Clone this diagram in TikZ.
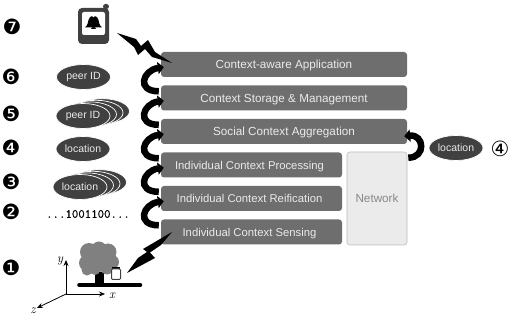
\documentclass[tikz,border=0pt]{standalone}
\usepackage{fontspec}
\setmainfont{Liberation Sans}
\newfontfamily\symfont{DejaVu Sans}
\newfontfamily\digitfont[FakeBold=0.6]{Latin Modern Mono}
\newfontfamily\axisfont{Latin Modern Roman}
\usetikzlibrary{shapes.geometric,arrows.meta,calc}
\definecolor{layer}{HTML}{6E6E6E}
\definecolor{blob}{HTML}{404040}
\definecolor{foliage}{HTML}{808080}
\tikzset{
  layerbox/.style={rectangle,rounded corners=3pt,fill=layer,text=white!92!black,inner sep=0pt,
    minimum height=25pt,text height=9.5pt,text depth=0.5pt,font=\fontsize{11.7}{13}\selectfont},
  smallerlayer/.style={layerbox,minimum width=181pt,font=\fontsize{11.3}{13}\selectfont},
  netbox/.style={rectangle,rounded corners=3pt,fill=black!8,draw=black!27,line width=.6pt,inner sep=0pt,
    minimum width=60pt,minimum height=93pt,text=black!47,font=\fontsize{11.7}{13}\selectfont},
  token/.style={ellipse,fill=blob,draw=white,line width=.7pt,inner sep=0pt,minimum width=54pt,
    minimum height=25pt,text=white!92!black,font=\fontsize{10.5}{12}\selectfont},
  stepmark/.style={inner sep=0pt,font=\symfont\fontsize{21}{23}\selectfont},
  turn/.style={line width=6.5pt,-{Triangle[length=6pt,width=12pt]}},
  bolt/.style={fill=black,draw=none},
  axis/.style={line width=.8pt,-{Stealth[length=6pt,width=5pt]}},
  axislabel/.style={inner sep=0pt,font=\axisfont\itshape\fontsize{13}{15}\selectfont}
}
\begin{document}
\begin{tikzpicture}[x=1pt,y=-1pt]
\useasboundingbox (0,0) rectangle (509,320);

% Layer stack
\node[layerbox,minimum width=246pt] (app) at (284,64.5) {Context-aware Application};
\node[layerbox,minimum width=246pt] (storage) at (284,98) {Context Storage \& Management};
\node[layerbox,minimum width=246pt] (social) at (284,131.5) {Social Context Aggregation};
\node[smallerlayer] (proc) at (251.5,165) {\hspace*{-4pt}Individual Context Processing};
\node[smallerlayer] (reif) at (251.5,198.5) {\hspace*{-4pt}Individual Context Reification};
\node[smallerlayer] (sens) at (251.5,232) {\hspace*{-4pt}Individual Context Sensing};
\node[netbox] (net) at (377,198.5) {Network};

% Curved hand-over arrows between layers
\foreach \lo/\up in {storage/app,social/storage,proc/social,reif/proc,sens/reif}{
  \coordinate (s) at ($(\lo.north west)+(-2,6)$);
  \coordinate (e) at ($(\up.south west)+(3,-10)$);
  \draw[turn] (s) .. controls ($(s)+(-23,0)$) and ($(e)+(-21,3)$) .. (e);
}
\coordinate (ns) at ($(net.north east)+(1,6)$);
\coordinate (ne) at ($(social.south east)+(-3,-8)$);
\draw[turn] (ns) .. controls ($(ns)+(18,0)$) and ($(ne)+(20,-2)$) .. (ne);

% Data tokens, back layers first
\foreach \k in {3,2,1}{
  \node[token] at ({83+6.5*\k},{116-1.6*\k}) {};
  \node[token] at ({80+6.5*\k},{187-1.6*\k}) {};
}
\node[token] (peerone) at (83.5,77) {peer ID};
\node[token] (peermany) at (83,116) {peer ID};
\node[token] (locone) at (83,149) {location};
\node[token] (locmany) at (80,187) {location};
\node[token] (locright) at (456,148) {location};
\node[inner sep=0pt,font=\digitfont\fontsize{12.5}{14}\selectfont] (bits) at (88,214) {...1001100...};

% Step numbers
\node[stepmark] (n7) at (12,27) {❼};
\node[stepmark] (n6) at (11,77) {❻};
\node[stepmark] (n5) at (11,114) {❺};
\node[stepmark] (n4) at (11,148) {❹};
\node[stepmark] (n3) at (11,182) {❸};
\node[stepmark] (n2) at (11,212) {❷};
\node[stepmark] (n1) at (11,268) {❶};
\node[stepmark] (n4r) at (500,149) {④};

% Wireless links
\fill[bolt] (117,33) -- (136,39) -- (141,46) -- (148,40) -- (155,52) -- (172,63)
  -- (152,57) -- (145,49) -- (138,55) -- (134,47) -- cycle;
\fill[bolt] (172,232) -- (161,245) -- (150,252.5) -- (155,258) -- (127,273)
  -- (138,258) -- (147,252) -- (143,249) -- cycle;

% Phone with a bell on its screen
\fill[blob,rounded corners=2.5pt] (103,9) -- (103,4) -- (109,4) -- (109,9) -- cycle;
\fill[blob,rounded corners=4pt] (78,8) rectangle (109,44);
\fill[white,rounded corners=2pt] (82,12) rectangle (105,35);
\fill[black] (85,27.5) .. controls (88,25) and (88,22) .. (88.5,20)
  .. controls (89,17) and (91,16.5) .. (92,16.2) arc[start angle=180,end angle=0,radius=1.5]
  .. controls (96,16.5) and (98,17) .. (98.5,20)
  .. controls (99,22) and (99,25) .. (102,27.5) -- cycle;
\fill[black] (91,29) -- (96,29) arc[start angle=0,end angle=180,radius=2.5,y radius=-2] -- cycle;

% Tree and ground
\fill[black] (95,272) rectangle (104,285);
\draw[line width=4.6pt,line cap=round] (79.5,285) -- (140,285);
\fill[foliage] (89,252) circle[radius=9] (99,249) circle[radius=7.5] (108,252) circle[radius=8.5]
  (112,262) circle[radius=7] (87,263) circle[radius=8] (99,261) circle[radius=11]
  (107,268) circle[radius=6.5] (87,270) circle[radius=5.5] (95,270) circle[radius=5];
\fill[black] (112,267.5) rectangle (120,270);
\filldraw[fill=white,draw=blob,line width=1pt,rounded corners=1pt] (111.5,269) rectangle (120.5,279.5);

% Coordinate axes
\coordinate (origin) at (66,294);
\coordinate (ytip) at (66,260);
\coordinate (xtip) at (105,294);
\coordinate (ztip) at (37,308);
\draw[axis] (origin) -- (ytip);
\draw[axis] (origin) -- (xtip);
\draw[axis] (origin) -- (ztip);
\node[axislabel] (ylab) at (60,261) {y};
\node[axislabel] (xlab) at (112,296) {x};
\node[axislabel] (zlab) at (33,311) {z};
\end{tikzpicture}
\end{document}
